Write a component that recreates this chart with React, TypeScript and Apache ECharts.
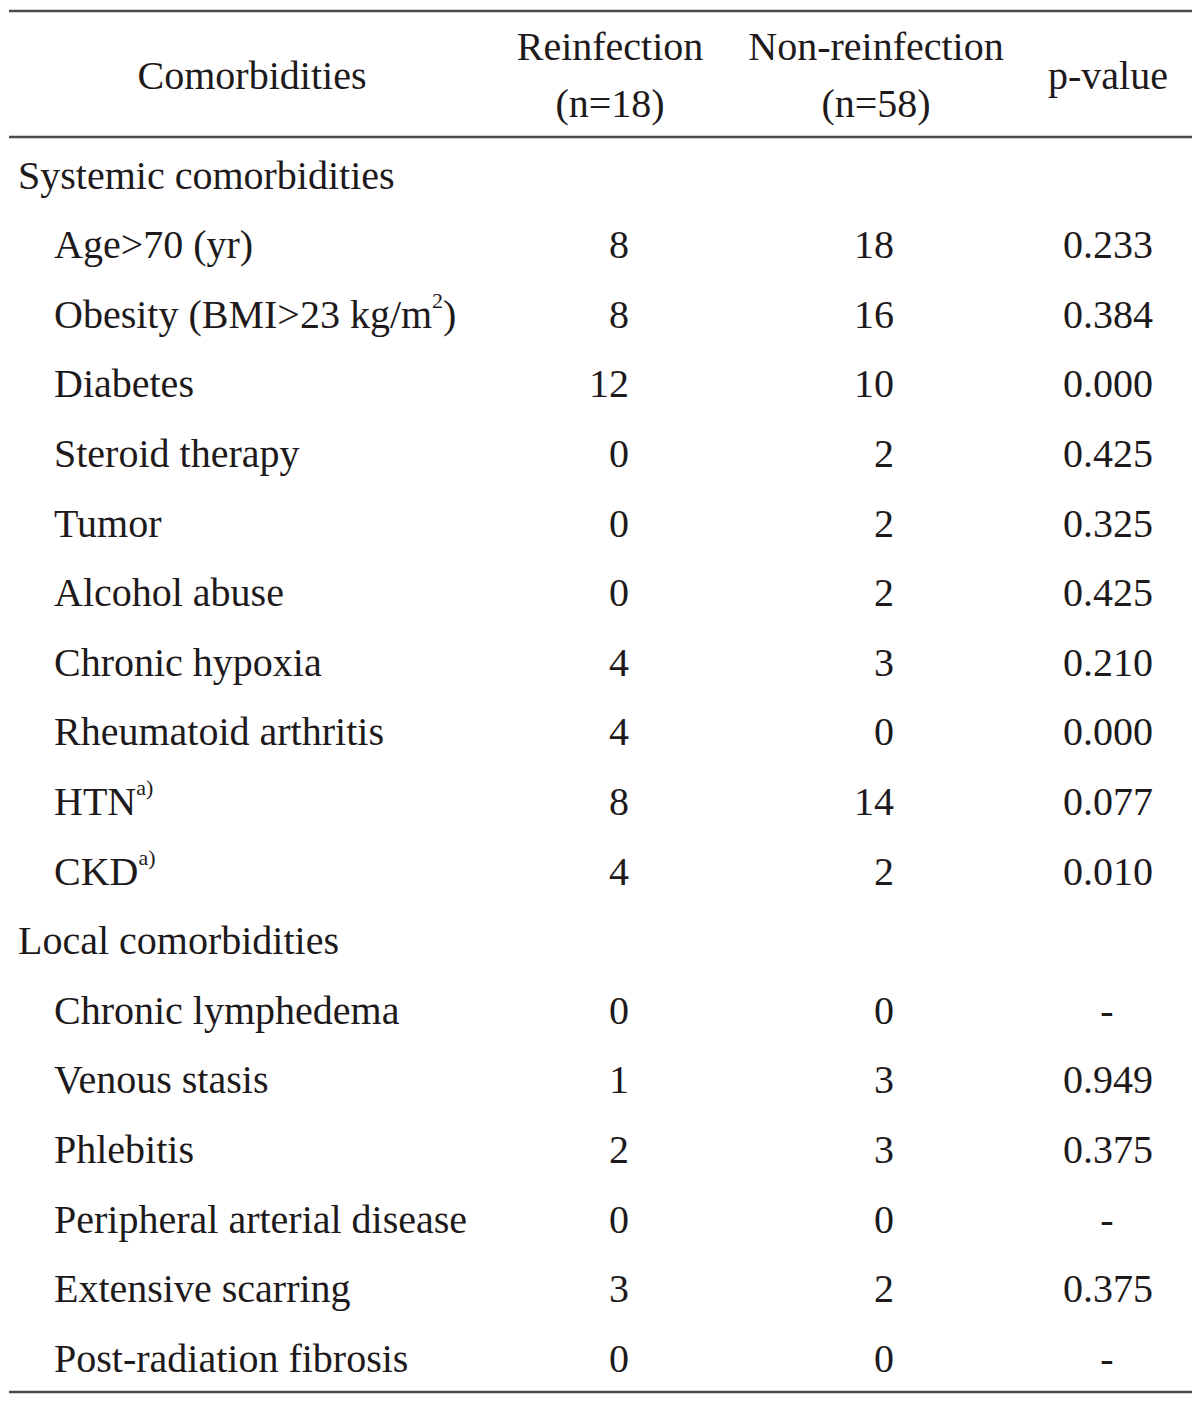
import React, { useEffect, useRef } from "react";
import * as echarts from "echarts";

// ---- data ----
const headerTitles = ["Comorbidities", "Reinfection\n(n=18)", "Non-reinfection\n(n=58)", "p-value"];

const systemicTitle = "Systemic comorbidities";
const systemicItems = [
  "Age>70 (yr)",
  "Obesity (BMI>23 kg/m{sup|2})",
  "Diabetes",
  "Steroid therapy",
  "Tumor",
  "Alcohol abuse",
  "Chronic hypoxia",
  "Rheumatoid arthritis",
  "HTN{sup|a)}",
  "CKD{sup|a)}",
];
const systemicReinfection = [8, 8, 12, 0, 0, 0, 4, 4, 8, 4];
const systemicNonReinfection = [18, 16, 10, 2, 2, 2, 3, 0, 14, 2];
const systemicP = ["0.233", "0.384", "0.000", "0.425", "0.325", "0.425", "0.210", "0.000", "0.077", "0.010"];

const localTitle = "Local comorbidities";
const localItems = [
  "Chronic lymphedema",
  "Venous stasis",
  "Phlebitis",
  "Peripheral arterial disease",
  "Extensive scarring",
  "Post-radiation fibrosis",
];
const localReinfection = [0, 1, 2, 0, 3, 0];
const localNonReinfection = [0, 3, 3, 0, 2, 0];
const localP = ["-", "0.949", "0.375", "-", "0.375", "-"];

type Row = { label: string; section: boolean; a?: number; b?: number; p?: string };
const rows: Row[] = [
  { label: systemicTitle, section: true },
  ...systemicItems.map((l, i) => ({ label: l, section: false, a: systemicReinfection[i], b: systemicNonReinfection[i], p: systemicP[i] })),
  { label: localTitle, section: true },
  ...localItems.map((l, i) => ({ label: l, section: false, a: localReinfection[i], b: localNonReinfection[i], p: localP[i] })),
];

// ---- layout ----
const W = 1200;
const H = 1403;
const FONT = "'Liberation Serif', 'Times New Roman', serif";
const FS = 40;
const TXT = "#1e1a1b";
const LINE = "#4a4a4a";
const ROW_TOP = 140.2;
const ROW_H = 69.6;
const headerCenters = [252, 610, 876, 1108];
const headerY = 75;
const sectionX = 18;
const itemX = 54;
const colRight = [629, 894, 1153];
const dashCenter = 1107;

export default function App() {
  const ref = useRef<HTMLDivElement>(null);
  useEffect(() => {
    if (!ref.current) return;
    const chart = echarts.init(ref.current, null, { renderer: "svg" });
    const rich = {
      sup: { fontSize: 22, lineHeight: 22, fontFamily: FONT, fill: TXT, verticalAlign: "top" as const },
    };
    const textStyle = (text: string, align: string, hasSup = false) => ({
      text,
      fill: TXT,
      fontSize: FS,
      fontFamily: FONT,
      align,
      verticalAlign: "middle",
      lineHeight: hasSup ? 50 : 44,
      rich,
    });
    chart.setOption({
      animation: false,
      backgroundColor: "#ffffff",
      grid: { left: 0, right: 0, top: ROW_TOP, height: ROW_H * rows.length },
      xAxis: { type: "value", min: 0, max: W, show: false },
      yAxis: { type: "category", data: rows.map((r) => r.label), inverse: true, show: false },
      graphic: [
        { type: "line", shape: { x1: 9, y1: 11, x2: 1192, y2: 11 }, style: { stroke: LINE, lineWidth: 2.5 } },
        { type: "line", shape: { x1: 9, y1: 137, x2: 1192, y2: 137 }, style: { stroke: LINE, lineWidth: 2.5 } },
        { type: "line", shape: { x1: 9, y1: 1392, x2: 1192, y2: 1392 }, style: { stroke: LINE, lineWidth: 2.5 } },
        ...headerTitles.map((t, i) => ({
          type: "text",
          x: headerCenters[i],
          y: headerY,
          style: {
            text: t,
            fill: TXT,
            fontSize: FS,
            fontFamily: FONT,
            align: "center",
            verticalAlign: "middle",
            lineHeight: 57,
          },
        })),
      ],
      series: [
        {
          type: "custom",
          data: rows.map((_, i) => [0, i]),
          encode: { x: 0, y: 1 },
          renderItem: (params: any, api: any) => {
            const i = params.dataIndex;
            const r = rows[i];
            const y = api.coord([0, i])[1];
            const xOf = (v: number) => api.coord([v, i])[0];
            const children: any[] = [
              {
                type: "text",
                x: xOf(r.section ? sectionX : itemX),
                y,
                style: textStyle(r.label, "left", r.label.indexOf("{sup|") >= 0),
              },
            ];
            if (!r.section) {
              children.push({ type: "text", x: xOf(colRight[0]), y, style: textStyle(String(r.a), "right") });
              children.push({ type: "text", x: xOf(colRight[1]), y, style: textStyle(String(r.b), "right") });
              if (r.p === "-") {
                children.push({ type: "text", x: xOf(dashCenter), y, style: textStyle("-", "center") });
              } else {
                children.push({ type: "text", x: xOf(colRight[2]), y, style: textStyle(String(r.p), "right") });
              }
            }
            return { type: "group", children };
          },
        },
      ],
    });
    return () => chart.dispose();
  }, []);
  return (
    <div
      ref={ref}
      style={{ position: "fixed", left: 0, top: 0, width: W, height: H, background: "#fff" }}
    />
  );
}
